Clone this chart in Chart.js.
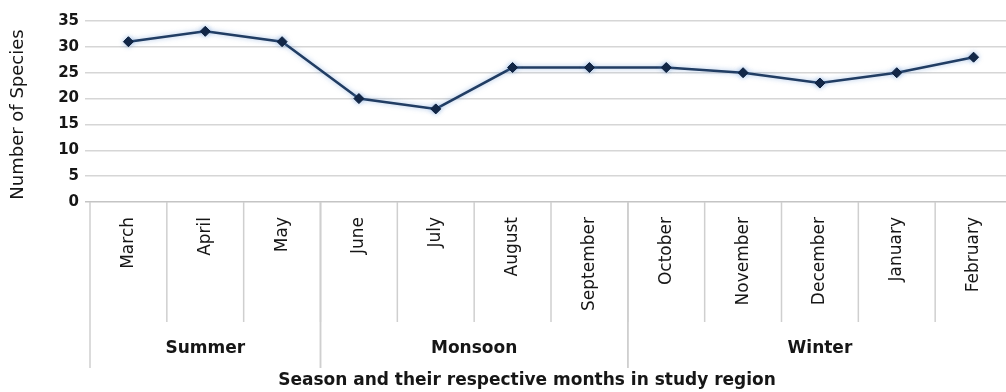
<!DOCTYPE html>
<html>
<head>
<meta charset="utf-8">
<script src="https://cdn.jsdelivr.net/npm/chart.js@4/dist/chart.umd.min.js"></script>
<style>
  html, body { margin: 0; padding: 0; background: #fff; overflow: hidden; }
</style>
</head>
<body>
<canvas id="speciesChart" width="1018" height="392"></canvas>
<script>
// Monthly species counts grouped by season
const months = ['March', 'April', 'May', 'June', 'July', 'August', 'September',
                'October', 'November', 'December', 'January', 'February'];
const species = [31, 33, 31, 20, 18, 26, 26, 26, 25, 23, 25, 28];
const seasons = ['Summer', 'Monsoon', 'Winter'];
const seasonLengths = [3, 4, 5];
const yTicks = [0, 5, 10, 15, 20, 25, 30, 35];

const textColor = '#161616';
const gridColor = '#d6d6d6';

// glow around the line like the spreadsheet shadow
const lineGlow = {
    id: 'lineGlow',
    beforeDatasetsDraw(chart) {
        const ctx = chart.ctx;
        ctx.save();
        ctx.shadowColor = 'rgba(90, 140, 210, 0.55)';
        ctx.shadowBlur = 5;
    },
    afterDatasetsDraw(chart) {
        chart.ctx.restore();
    }
};

// two-level category axis: month names, season groups and the axis titles
const groupedAxis = {
    id: 'groupedAxis',
    afterDraw(chart) {
        const ctx = chart.ctx;
        const x = chart.scales.x;
        const area = chart.chartArea;
        const bottom = area.bottom;
        const edge = i => {
            if (i <= 0) return area.left;
            if (i >= months.length) return area.right;
            return (x.getPixelForValue(i - 1) + x.getPixelForValue(i)) / 2;
        };

        ctx.save();
        ctx.strokeStyle = '#cfcfcf';
        ctx.lineWidth = 1.5;

        // month dividers
        for (let i = 1; i < months.length; i++) {
            ctx.beginPath();
            ctx.moveTo(edge(i), bottom);
            ctx.lineTo(edge(i), bottom + 120);
            ctx.stroke();
        }

        // season dividers and labels
        ctx.fillStyle = textColor;
        ctx.font = 'bold 17px "DejaVu Sans"';
        ctx.textAlign = 'center';
        ctx.textBaseline = 'middle';
        let start = 0;
        seasons.forEach((name, s) => {
            const end = start + seasonLengths[s];
            [start, end].forEach(i => {
                ctx.beginPath();
                ctx.moveTo(edge(i), bottom);
                ctx.lineTo(edge(i), bottom + 166);
                ctx.stroke();
            });
            ctx.fillText(name, (edge(start) + edge(end)) / 2, bottom + 147);
            start = end;
        });

        // month names, reading upwards
        ctx.font = '17px "DejaVu Sans"';
        ctx.textAlign = 'right';
        months.forEach((m, i) => {
            ctx.save();
            ctx.translate(x.getPixelForValue(i), bottom + 15);
            ctx.rotate(-Math.PI / 2);
            ctx.fillText(m, 0, 0);
            ctx.restore();
        });

        // axis titles
        ctx.textAlign = 'center';
        ctx.font = 'bold 17px "DejaVu Sans"';
        ctx.fillText('Season and their respective months in study region', 527, bottom + 179);

        ctx.font = '18px "DejaVu Sans"';
        ctx.save();
        ctx.translate(18, (area.top + area.bottom) / 2 + 3);
        ctx.rotate(-Math.PI / 2);
        ctx.fillText('Number of Species', 0, 0);
        ctx.restore();

        ctx.restore();
    }
};

new Chart(document.getElementById('speciesChart').getContext('2d'), {
    type: 'line',
    data: {
        labels: months,
        datasets: [{
            data: species,
            borderColor: '#213d63',
            borderWidth: 2.5,
            pointStyle: 'rectRot',
            pointRadius: 5,
            pointBackgroundColor: '#0c1f3c',
            pointBorderColor: '#0c1f3c',
            pointBorderWidth: 1,
            tension: 0
        }]
    },
    options: {
        responsive: false,
        animation: false,
        layout: { padding: { top: 21, right: 1, bottom: 0, left: 0 } },
        plugins: {
            legend: { display: false },
            tooltip: { enabled: false }
        },
        scales: {
            x: {
                offset: true,
                grid: { display: false },
                border: { display: false },
                ticks: { display: false },
                afterFit: scale => { scale.height = 190; }
            },
            y: {
                min: yTicks[0],
                max: yTicks[yTicks.length - 1],
                afterBuildTicks: scale => { scale.ticks = yTicks.map(v => ({ value: v })); },
                ticks: {
                    padding: 6,
                    color: textColor,
                    font: { family: 'DejaVu Sans', size: 15, weight: 'bold' }
                },
                grid: {
                    color: ctx => ctx.tick && ctx.tick.value === 0 ? '#c4c4c4' : gridColor,
                    lineWidth: 1.5,
                    tickLength: 5
                },
                border: { display: false },
                afterFit: scale => { scale.width = 90; }
            }
        }
    },
    plugins: [lineGlow, groupedAxis]
});
</script>
</body>
</html>
